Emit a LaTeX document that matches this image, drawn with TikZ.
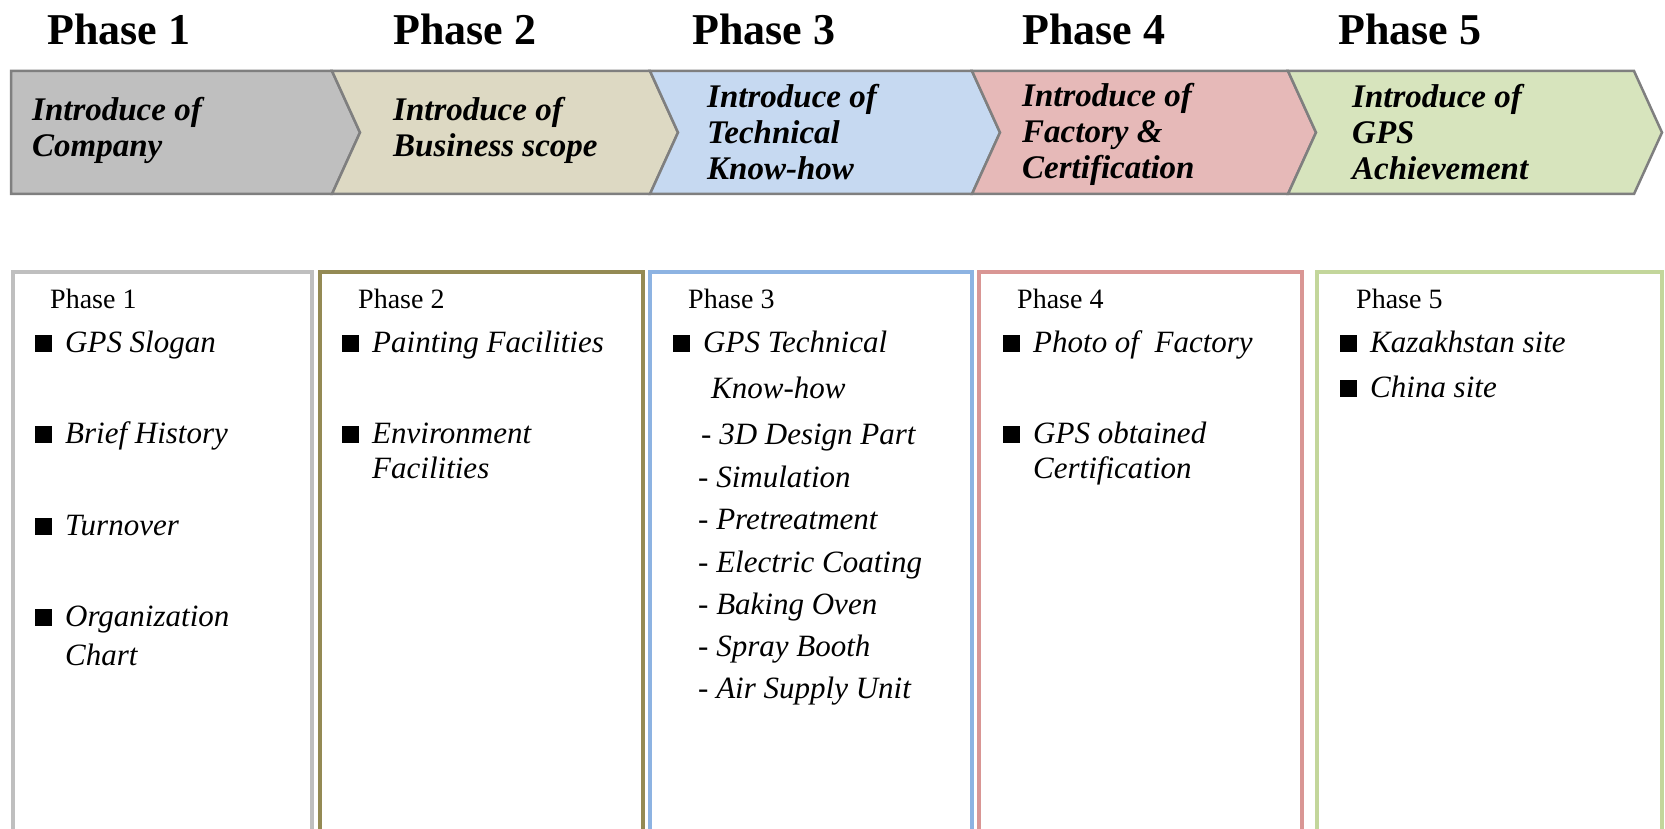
\documentclass[tikz,border=0pt]{standalone}
\usepackage{fontspec}
\setmainfont{Liberation Serif}
\usetikzlibrary{positioning}

\definecolor{chevGray}{HTML}{BFBFBF}
\definecolor{chevBeige}{HTML}{DDD9C3}
\definecolor{chevBlue}{HTML}{C6D9F1}
\definecolor{chevPink}{HTML}{E6B9B8}
\definecolor{chevGreen}{HTML}{D7E4BD}
\definecolor{chevLine}{HTML}{7F7F7F}
\definecolor{boxGray}{HTML}{BFBFBF}
\definecolor{boxOlive}{HTML}{948A54}
\definecolor{boxBlue}{HTML}{8DB3E2}
\definecolor{boxPink}{HTML}{D99694}
\definecolor{boxGreen}{HTML}{C3D69B}

\newcommand{\bul}[1]{\rule{17pt}{17pt}\hspace{13pt}#1}

\begin{document}
\begin{tikzpicture}[x=1pt, y=-1pt,
        phaseHead/.style={anchor=base west, inner sep=0pt, font=\fontsize{44}{50}\selectfont\bfseries},
        chevText/.style={anchor=west, align=left, inner sep=0pt, font=\fontsize{33}{36}\selectfont\bfseries\itshape},
        boxTitle/.style={anchor=base west, inner sep=0pt, font=\fontsize{28}{32}\selectfont},
        item/.style={anchor=base west, inner sep=0pt, font=\fontsize{31}{39}\selectfont\itshape}]
        \useasboundingbox (0,0) rectangle (1665,829);
        \pgfmathsetmacro{\barTop}{71}
        \pgfmathsetmacro{\barBot}{194}
        \pgfmathsetmacro{\barMid}{132.5}
        \pgfmathsetmacro{\tipDepth}{28}
        \pgfmathsetmacro{\boxTop}{272}

        % phase headings
        \node[phaseHead] (head1) at (47,45) {Phase 1};
        \node[phaseHead] (head2) at (393,45) {Phase 2};
        \node[phaseHead] (head3) at (692,45) {Phase 3};
        \node[phaseHead] (head4) at (1022,45) {Phase 4};
        \node[phaseHead] (head5) at (1338,45) {Phase 5};

        % chevron bar
        \foreach \l/\r/\dl/\szin in {11/332/0/chevGray, 332/650/\tipDepth/chevBeige,
                650/972/\tipDepth/chevBlue, 972/1288/\tipDepth/chevPink, 1288/1634/\tipDepth/chevGreen} {
                \draw[fill=\szin, draw=chevLine, line width=2.5pt, line join=miter]
                (\l,\barTop) -- (\r,\barTop) -- ({\r+\tipDepth},\barMid) -- (\r,\barBot)
                -- (\l,\barBot) -- ({\l+\dl},\barMid) -- cycle;
            }
        \node[chevText] (chev1) at (32,130) {Introduce of\\Company};
        \node[chevText] (chev2) at (393,130) {Introduce of\\Business scope};
        \node[chevText] (chev3) at (707,132) {Introduce of\\Technical\\Know-how};
        \node[chevText] (chev4) at (1022,134) {Introduce of\\Factory \&\\Certification};
        \node[chevText] (chev5) at (1352,132) {Introduce of\\GPS\\Achievement};

        % boxes, open at the bottom
        \foreach \l/\r/\szin in {13/312/boxGray, 320/643/boxOlive, 650/972/boxBlue,
                979/1302/boxPink, 1317/1662/boxGreen} {
                \draw[\szin, line width=3.2pt] (\l,840) -- (\l,\boxTop) -- (\r,\boxTop) -- (\r,840);
            }

        % box 1
        \node[boxTitle] (title1) at (50,308) {Phase 1};
        \node[item] (slogan) at (35,352) {\bul{GPS Slogan}};
        \node[item] (history) at (35,443) {\bul{Brief History}};
        \node[item] (turnover) at (35,535) {\bul{Turnover}};
        \node[item] (orgA) at (35,626) {\bul{Organization}};
        \node[item] (orgB) at (65,665) {Chart};

        % box 2
        \node[boxTitle] (title2) at (358,308) {Phase 2};
        \node[item] (painting) at (342,352) {\bul{Painting Facilities}};
        \node[item] (envA) at (342,443) {\bul{Environment}};
        \node[item] (envB) at (372,478) {Facilities};

        % box 3
        \node[boxTitle] (title3) at (688,308) {Phase 3};
        \node[item] (techA) at (673,352) {\bul{GPS Technical}};
        \node[item] (techB) at (711,398) {Know-how};
        \node[item] (design) at (701,444) {- 3D Design Part};
        \node[item] (simul) at (698,487) {- Simulation};
        \node[item] (pretreat) at (698,529) {- Pretreatment};
        \node[item] (coating) at (698,572) {- Electric Coating};
        \node[item] (oven) at (698,614) {- Baking Oven};
        \node[item] (booth) at (698,656) {- Spray Booth};
        \node[item] (airunit) at (698,698) {- Air Supply Unit};

        % box 4
        \node[boxTitle] (title4) at (1017,308) {Phase 4};
        \node[item] (photo) at (1003,352) {\bul{Photo of~~Factory}};
        \node[item] (certA) at (1003,443) {\bul{GPS obtained}};
        \node[item] (certB) at (1033,478) {Certification};

        % box 5
        \node[boxTitle] (title5) at (1356,308) {Phase 5};
        \node[item] (kazakh) at (1340,352) {\bul{Kazakhstan site}};
        \node[item] (china) at (1340,397) {\bul{China site}};
    \end{tikzpicture}
\end{document}
